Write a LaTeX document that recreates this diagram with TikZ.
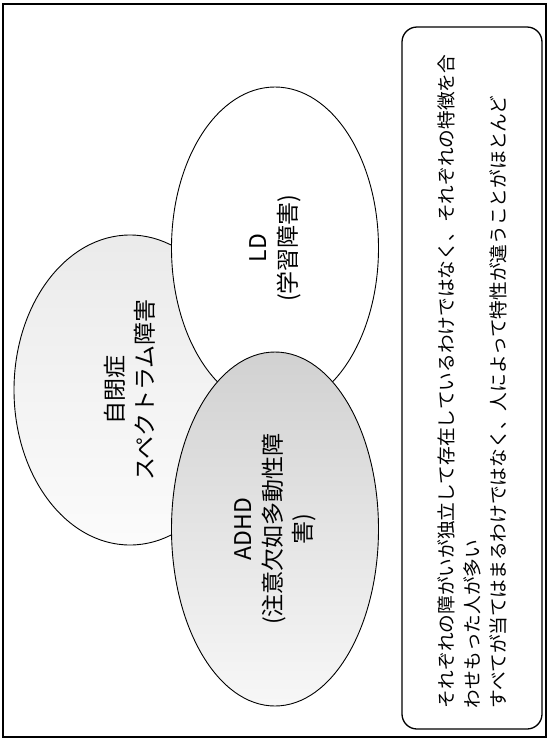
\documentclass[tikz,border=0pt]{standalone}
\usepackage{fontspec}
\newfontfamily\jpfont{Noto Sans CJK JP}
\usetikzlibrary{shapes.geometric}

\begin{document}
\begin{tikzpicture}[
  x=1pt, y=-1pt,
  every node/.style = {font=\jpfont},
  blob/.style = {ellipse, draw, line width=0.9pt, rotate=90, inner sep=0pt,
    align=center, font=\jpfont\fontsize{23}{30}\selectfont},
  notebox/.style = {draw, line width=1.3pt, rounded corners=15pt, rotate=90,
    inner xsep=21pt, align=left, font=\jpfont\fontsize{18.7}{26}\selectfont},
]
\useasboundingbox (0,0) rectangle (549,740);

% ── Outer frame ─────────────────────────────────────────────────────────────
\draw[line width=1.8pt] (3,4) rectangle (546,737);

% ── Autism spectrum ─────────────────────────────────────────────────────────
\node[blob, minimum width=310pt, minimum height=232pt,
      top color=gray!16, bottom color=gray!3] (asd) at (130,390)
  {自閉症\\スペクトラム障害};

% ── LD (white, on top of autism) ────────────────────────────────────────────
\node[blob, minimum width=322pt, minimum height=207pt, fill=white] (ld) at (275,248)
  {LD\\(学習障害)};

% ── ADHD ────────────────────────────────────────────────────────────────────
\node[blob, minimum width=354pt, minimum height=207pt,
      top color=gray!36, bottom color=gray!6] (adhd) at (275,529)
  {ADHD\\(注意欠如多動性障\\害)};

% ── Note box ────────────────────────────────────────────────────────────────
\node[notebox, minimum width=702pt, minimum height=140pt, text width=660pt]
  (note) at (472,378)
  {それぞれの障がいが独立して存在しているわけではなく、それぞれの特徴を合\\
   わせもった人が多い\\
   すべてが当てはまるわけではなく、人によって特性が違うことがほとんど};

\end{tikzpicture}
\end{document}
